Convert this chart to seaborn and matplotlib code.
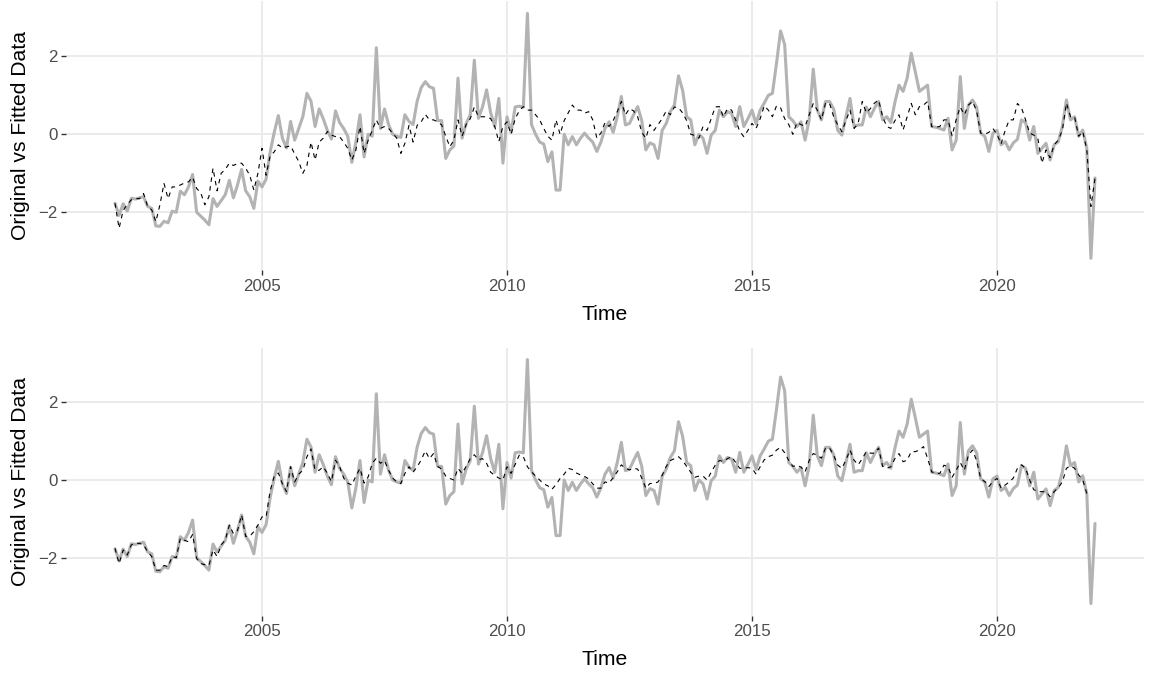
import numpy as np
import pandas as pd
import matplotlib
matplotlib.use("Agg")
import matplotlib.pyplot as plt
import seaborn as sns

# Monthly series, January 2002 to January 2022
start_year = 2002

original = [
    -1.77, -2.08, -1.78, -1.97, -1.64, -1.66, -1.63, -1.60, -1.85, -1.90, -2.35, -2.36,   # 2002
    -2.23, -2.27, -1.97, -2.00, -1.46, -1.55, -1.35, -1.03, -2.00, -2.10, -2.20, -2.32,   # 2003
    -1.65, -1.85, -1.70, -1.55, -1.18, -1.63, -1.30, -0.90, -1.45, -1.60, -1.90, -1.20,   # 2004
    -1.35, -1.15, -0.45, 0.05, 0.48, -0.10, -0.35, 0.33, -0.15, 0.15, 0.45, 1.05,         # 2005
    0.85, 0.20, 0.65, 0.40, 0.10, -0.12, 0.60, 0.30, 0.15, -0.05, -0.72, -0.20,           # 2006
    0.50, -0.58, 0.00, -0.05, 2.22, 0.15, 0.65, 0.25, 0.00, -0.05, -0.08, 0.50,           # 2007
    0.33, 0.25, 0.85, 1.20, 1.35, 1.22, 1.18, 0.35, 0.35, -0.62, -0.40, -0.30,            # 2008
    1.44, -0.10, 0.28, 0.50, 1.90, 0.41, 0.70, 1.14, 0.55, 0.20, 0.92, -0.74,             # 2009
    0.45, 0.05, 0.70, 0.72, 0.70, 3.10, 0.25, 0.00, -0.20, -0.25, -0.70, -0.45,           # 2010
    -1.43, -1.43, 0.00, -0.27, -0.06, -0.27, -0.10, 0.03, -0.10, -0.20, -0.44, -0.20,     # 2011
    0.15, 0.32, 0.05, 0.45, 0.97, 0.24, 0.28, 0.50, 0.71, 0.35, -0.40, -0.22,             # 2012
    -0.27, -0.62, 0.10, 0.28, 0.58, 0.75, 1.50, 1.13, 0.45, 0.37, -0.27, 0.00,            # 2013
    -0.10, -0.49, -0.02, 0.10, 0.62, 0.45, 0.58, 0.54, 0.20, 0.71, 0.20, 0.40,            # 2014
    0.62, 0.27, 0.62, 0.80, 1.00, 1.05, 1.82, 2.65, 2.30, 0.45, 0.35, 0.20,               # 2015
    0.32, -0.15, 0.37, 1.67, 0.62, 0.37, 0.84, 0.84, 0.65, 0.10, -0.02, 0.45,             # 2016
    0.92, 0.20, 0.24, 0.24, 0.70, 0.45, 0.67, 0.84, 0.37, 0.45, 0.30, 0.82,               # 2017
    1.26, 1.10, 1.44, 2.08, 1.60, 1.10, 1.18, 1.26, 0.20, 0.18, 0.15, 0.11,               # 2018
    0.41, -0.40, -0.15, 1.48, 0.15, 0.75, 0.88, 0.70, 0.03, -0.05, -0.44, 0.03,           # 2019
    0.10, -0.27, -0.19, -0.40, -0.22, -0.13, 0.37, 0.30, -0.15, 0.20, -0.49, -0.36,       # 2020
    -0.23, -0.66, -0.27, -0.19, 0.20, 0.88, 0.37, 0.45, -0.05, 0.11, -0.36, -3.18,        # 2021
    -1.12,                                                                               # 2022
]

fitted_top = [
    -1.77, -2.41, -1.95, -1.80, -1.68, -1.65, -1.65, -1.52, -1.85, -1.94, -2.24, -1.81,
    -1.26, -1.65, -1.35, -1.35, -1.30, -1.25, -1.22, -1.10, -1.39, -1.50, -1.81, -1.60,
    -0.87, -1.45, -1.00, -0.90, -0.74, -0.80, -0.75, -0.74, -0.87, -1.05, -1.43, -1.00,
    -0.36, -1.05, -0.55, -0.45, -0.27, -0.35, -0.32, -0.30, -0.50, -0.70, -1.00, -0.80,
    -0.20, -0.66, -0.20, -0.10, 0.07, -0.02, -0.06, -0.06, -0.20, -0.36, -0.66, -0.40,
    0.20, -0.49, -0.15, 0.10, 0.37, 0.15, 0.20, 0.15, 0.03, -0.10, -0.49, -0.23,
    0.23, -0.20, 0.23, 0.32, 0.51, 0.37, 0.37, 0.32, 0.24, -0.05, -0.32, -0.15,
    0.37, -0.05, 0.25, 0.40, 0.70, 0.45, 0.45, 0.45, 0.40, 0.20, -0.19, 0.20,
    0.32, 0.00, 0.40, 0.60, 0.71, 0.62, 0.62, 0.50, 0.37, 0.15, -0.05, -0.15,
    0.37, 0.00, 0.35, 0.55, 0.75, 0.62, 0.62, 0.54, 0.58, 0.37, -0.10, 0.03,
    0.30, 0.20, 0.35, 0.58, 0.84, 0.50, 0.66, 0.60, 0.45, 0.05, -0.10, 0.25,
    0.10, 0.25, 0.40, 0.60, 0.50, 0.70, 0.68, 0.55, 0.35, 0.00, -0.03, -0.10,
    0.20, 0.10, 0.40, 0.70, 0.71, 0.45, 0.66, 0.62, 0.37, 0.07, -0.06, 0.10,
    0.28, 0.15, 0.40, 0.73, 0.62, 0.45, 0.73, 0.68, 0.40, 0.25, 0.00, 0.30,
    0.25, 0.20, 0.50, 0.79, 0.62, 0.37, 0.80, 0.79, 0.45, 0.24, 0.07, 0.35,
    0.62, 0.15, 0.28, 0.84, 0.55, 0.66, 0.80, 0.88, 0.45, 0.20, 0.15, 0.35,
    0.50, 0.11, 0.45, 0.79, 0.50, 0.71, 0.75, 0.84, 0.20, 0.18, 0.20, 0.37,
    0.37, -0.04, 0.38, 0.70, 0.50, 0.75, 0.84, 0.60, 0.03, 0.00, 0.05, 0.15,
    0.00, -0.25, 0.10, 0.37, 0.37, 0.79, 0.68, 0.37, 0.03, -0.02, -0.10, -0.74,
    -0.40, -0.60, -0.27, -0.15, 0.10, 0.80, 0.45, 0.45, -0.05, 0.07, -0.40, -1.85,
    -1.13,
]

fitted_bottom = [
    -1.76, -2.15, -1.80, -1.93, -1.67, -1.63, -1.63, -1.67, -1.85, -1.97, -2.32, -2.32,
    -2.20, -2.23, -1.97, -2.00, -1.50, -1.55, -1.59, -1.40, -2.02, -2.15, -2.18, -2.20,
    -1.80, -1.97, -1.67, -1.55, -1.16, -1.38, -1.30, -0.90, -1.45, -1.45, -1.33, -1.16,
    -0.95, -0.95, -0.28, 0.10, 0.18, -0.10, -0.30, 0.34, -0.05, 0.15, 0.25, 0.60,
    0.80, 0.25, 0.25, 0.34, 0.17, -0.04, 0.51, 0.35, 0.05, -0.08, -0.13, 0.10,
    0.30, -0.08, 0.08, 0.43, 0.56, 0.43, 0.50, 0.25, 0.05, -0.05, -0.09, 0.17,
    0.34, 0.20, 0.34, 0.52, 0.75, 0.55, 0.68, 0.35, 0.28, 0.10, 0.04, 0.00,
    0.30, 0.17, 0.35, 0.55, 0.65, 0.52, 0.55, 0.43, 0.20, 0.12, 0.05, 0.00,
    0.34, 0.17, 0.40, 0.64, 0.60, 0.34, 0.21, 0.10, 0.00, -0.10, -0.15, -0.24,
    -0.12, 0.04, 0.15, 0.30, 0.27, 0.18, 0.13, 0.09, 0.03, -0.10, -0.21, -0.21,
    -0.05, -0.08, 0.06, 0.21, 0.39, 0.30, 0.26, 0.30, 0.28, 0.05, -0.21, -0.09,
    -0.09, -0.05, 0.12, 0.35, 0.50, 0.55, 0.60, 0.50, 0.35, 0.20, 0.07, 0.10,
    0.10, 0.00, 0.20, 0.38, 0.50, 0.48, 0.55, 0.60, 0.45, 0.30, 0.30, 0.32,
    0.30, 0.15, 0.34, 0.52, 0.60, 0.64, 0.77, 0.84, 0.70, 0.50, 0.35, 0.38,
    0.33, 0.21, 0.50, 0.68, 0.64, 0.56, 0.82, 0.82, 0.64, 0.38, 0.30, 0.51,
    0.77, 0.51, 0.39, 0.55, 0.73, 0.69, 0.69, 0.82, 0.35, 0.30, 0.34, 0.55,
    0.68, 0.47, 0.51, 0.73, 0.73, 0.77, 0.86, 0.56, 0.21, 0.17, 0.17, 0.38,
    0.34, 0.07, 0.25, 0.45, 0.25, 0.64, 0.77, 0.50, 0.04, -0.04, -0.17, -0.04,
    0.04, -0.21, -0.13, -0.05, 0.05, 0.30, 0.39, 0.30, 0.00, -0.25, -0.30, -0.30,
    -0.30, -0.43, -0.30, -0.20, -0.05, 0.30, 0.37, 0.30, 0.13, 0.00, -0.35, np.nan,
    np.nan,
]

x_ticks = [2005, 2010, 2015, 2020]
y_ticks = [-2, 0, 2]

time = start_year + np.arange(len(original)) / 12.0

sns.set_theme(style="white")
plt.rcParams["font.family"] = ["Liberation Sans", "DejaVu Sans"]

W, H = 1152, 673
fig = plt.figure(figsize=(W / 100, H / 100), dpi=100)


def panel(left, top, right, bottom):
    return fig.add_axes([left / W, 1 - bottom / H, (right - left) / W, (bottom - top) / H])


ax_top = panel(66, 1.3, 1144, 270.4)
ax_bot = panel(66, 347.5, 1144, 615.6)

for ax, fitted in ((ax_top, fitted_top), (ax_bot, fitted_bottom)):
    df = pd.DataFrame({"Time": time, "Original": original, "Fitted": fitted})
    sns.lineplot(data=df, x="Time", y="Original", ax=ax, color="#B3B3B3",
                 linewidth=2.2, errorbar=None, zorder=2)
    sns.lineplot(data=df.dropna(), x="Time", y="Fitted", ax=ax, color="black",
                 linewidth=0.8, errorbar=None, zorder=3, linestyle=(0, (4, 4)))

    ax.set_xlim(2001, 2023)
    ax.set_ylim(-3.49, 3.41)
    ax.set_xticks(x_ticks)
    ax.set_yticks(y_ticks)
    ax.grid(True, color="#EBEBEB", linewidth=1.4)
    ax.set_axisbelow(True)
    for s in ax.spines.values():
        s.set_visible(False)
    ax.tick_params(axis="both", which="major", bottom=True, left=True,
                   length=3.7, width=1.0, color="#333333",
                   labelcolor="#4D4D4D", labelsize=12.2, pad=2.5)
    ax.set_xlabel("Time", fontsize=15.2, color="black")
    ax.set_ylabel("Original vs Fitted Data", fontsize=15.2, color="black")
    ax.yaxis.set_label_coords(-0.033, 0.5)
    ax.xaxis.set_label_coords(0.5, -0.128)

fig.savefig("out.png", dpi=100, facecolor="white")
